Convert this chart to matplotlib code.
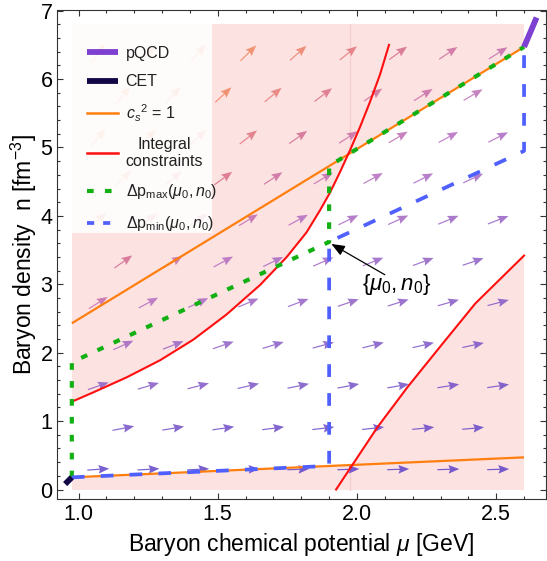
import numpy as np
import matplotlib
matplotlib.use("Agg")
import matplotlib.pyplot as plt
from matplotlib.patches import Polygon, Rectangle
from matplotlib.lines import Line2D
from matplotlib.ticker import MultipleLocator, FormatStrFormatter
from matplotlib.colors import LinearSegmentedColormap, Normalize

plt.rcParams['font.family'] = ['Liberation Sans', 'DejaVu Sans']
plt.rcParams['mathtext.fontset'] = 'custom'
plt.rcParams['mathtext.rm'] = 'Liberation Sans'
plt.rcParams['mathtext.it'] = 'Liberation Sans:italic'
plt.rcParams['mathtext.bf'] = 'Liberation Sans:bold'

# ---------------- data ----------------
cet_mu = [0.952, 0.976]
cet_n = [0.080, 0.178]
pqcd_mu = [2.600, 2.645]
pqcd_n = [6.47, 6.90]
cs_upper_mu = [0.976, 2.600]
cs_upper_n = [2.43, 6.47]
cs_lower_mu = [0.976, 2.600]
cs_lower_n = [0.178, 0.470]
red_left_mu = [0.976, 1.053, 1.173, 1.293, 1.412, 1.532, 1.652, 1.748, 1.819,
               1.867, 1.903, 1.939, 1.975, 2.011, 2.047, 2.083, 2.115]
red_left_n = [1.284, 1.42, 1.64, 1.89, 2.19, 2.56, 2.99, 3.40, 3.76,
              4.08, 4.34, 4.64, 4.96, 5.30, 5.67, 6.07, 6.50]
red_right_mu = [1.925, 1.976, 2.073, 2.182, 2.303, 2.425, 2.600]
red_right_n = [0.00, 0.314, 0.908, 1.50, 2.11, 2.72, 3.42]
dpmax_mu = [0.976, 0.976, 1.900, 1.900, 2.600]
dpmax_n = [0.178, 1.86, 3.62, 4.73, 6.47]
dpmin_mu = [0.976, 1.900, 1.900, 2.600, 2.600]
dpmin_n = [0.178, 0.345, 3.62, 4.95, 6.47]
mu0, n0 = 1.900, 3.62
region_mu = [0.976, 2.600]
region_n = [0.0, 6.80]
seam_mu = 1.975
# vector-field grid (staggered rows)
grid_rows_n = [0.295, 0.895, 1.513, 2.11, 2.73, 3.33, 3.94, 4.55, 5.15, 5.77, 6.38]
grid_cols_even = [1.071, 1.251, 1.430, 1.610, 1.789, 1.969, 2.148, 2.328, 2.507]
grid_cols_odd = [1.161, 1.340, 1.520, 1.699, 1.879, 2.058, 2.238, 2.417]

# ---------------- figure ----------------
W, H = 547, 561
fig = plt.figure(figsize=(W / 100, H / 100), dpi=100)
L, R, T, B = 56.7, 545.5, 10.0, 499.3
ax = fig.add_axes([L / W, 1 - B / H, (R - L) / W, (B - T) / H])
ax.set_xlim(0.9217, 2.677)
ax.set_ylim(-0.143, 7.01)

def ax_frac(px, py):
    return ((px - L) / (R - L), (B - py) / (B - T))

# pink excluded area
pink = Rectangle((region_mu[0], region_n[0]), region_mu[1] - region_mu[0],
                 region_n[1] - region_n[0], fc='#fde2e2', ec='none', zorder=0)
ax.add_patch(pink)
ax.plot([seam_mu, seam_mu], region_n, color='#f7cccc', lw=0.9, zorder=0.3)

# allowed (white) area: between c_s^2=1 lines, clipped by integral constraints
quad = Polygon([(cs_lower_mu[0], cs_lower_n[0]), (cs_lower_mu[1], cs_lower_n[1]),
                (cs_upper_mu[1], cs_upper_n[1]), (cs_upper_mu[0], cs_upper_n[0])],
               closed=True, fc='white', ec='none', zorder=0.6)
ax.add_patch(quad)
clip_pts = [(0.85, -1.0), (0.85, red_left_n[0])]
clip_pts += list(zip(red_left_mu, red_left_n))
clip_pts += [(red_left_mu[-1], 9.0), (2.9, 9.0), (2.9, red_right_n[-1])]
clip_pts += list(zip(red_right_mu[::-1], red_right_n[::-1]))
clip_pts += [(red_right_mu[0] - 0.17, -1.0)]
clip_poly = Polygon(clip_pts, closed=True, transform=ax.transData)
quad.set_clip_path(clip_poly)

# vector field arrows (c_s^2 = 1 direction through origin), fixed pixel length
X, Y = [], []
for i, nn in enumerate(grid_rows_n):
    cols = grid_cols_even if i % 2 == 0 else grid_cols_odd
    for mm in cols:
        X.append(mm)
        Y.append(nn)
X = np.array(X)
Y = np.array(Y)
slope = Y / X
p0 = ax.transData.transform(np.column_stack([X, Y]))
p1 = ax.transData.transform(np.column_stack([X + 0.01, Y + 0.01 * slope]))
d = p1 - p0
d /= np.hypot(d[:, 0], d[:, 1])[:, None]
cmap = LinearSegmentedColormap.from_list('arr', [
    (0.0, '#5a3ec8'), (0.05, '#6446c8'), (0.235, '#8e5ec4'), (0.367, '#b46cc0'),
    (0.408, '#c06cb0'), (0.45, '#cc6ca0'), (0.50, '#d86c88'), (0.533, '#e07480'),
    (0.567, '#e87c74'), (0.633, '#f08660'), (1.0, '#f59050')])
cols = cmap(Normalize(0, 6)(slope))
cols[:, 3] = 0.85
ax.quiver(X, Y, d[:, 0], d[:, 1], angles='uv', scale_units='dots', scale=1 / 22.0,
          units='dots', width=1.2, headwidth=7.2, headlength=9.0, headaxislength=7.8,
          pivot='middle', color=cols, zorder=1)

# lines
ax.plot(cs_upper_mu, cs_upper_n, color='#ff7f0e', lw=1.6, zorder=2, solid_capstyle='butt')
ax.plot(cs_lower_mu, cs_lower_n, color='#ff7f0e', lw=1.6, zorder=2, solid_capstyle='butt')
ax.plot(red_left_mu, red_left_n, color='#ff0f0f', lw=1.5, zorder=2.1)
ax.plot(red_right_mu, red_right_n, color='#ff0f0f', lw=1.5, zorder=2.1)
ax.plot(dpmax_mu, dpmax_n, color='#12b012', lw=3.0, dashes=(1.6, 2.7), zorder=3)
ax.plot(dpmin_mu, dpmin_n, color='#5060ff', lw=2.7, dashes=(3.4, 4.3), zorder=3.1)
ax.plot(pqcd_mu, pqcd_n, color='#7e40d0', lw=4.2, solid_capstyle='butt', zorder=4)
ax.plot(cet_mu, cet_n, color='#120848', lw=4.2, solid_capstyle='butt', zorder=4)

# annotation
ax.annotate('', xy=(mu0 + 0.008, n0 - 0.03), xytext=(2.10, 3.14),
            arrowprops=dict(arrowstyle='-|>,head_length=0.8,head_width=0.32',
                            color='black', lw=0.9, shrinkA=0, shrinkB=0), zorder=6)
ax.text(2.143, 2.99, r'$\{\mu_0,n_0\}$', fontsize=16, ha='center', va='center', zorder=6)

# legend (box drawn separately, as in the reference it hugs the text)
x0, y0 = ax_frac(71.7, 233.0)
x1, y1 = ax_frac(211.7, 23.3)
ax.add_patch(Rectangle((x0, y0), x1 - x0, y1 - y0, transform=ax.transAxes,
                       fc='white', ec='none', alpha=0.88, zorder=9))
handles = [
    Line2D([], [], color='#7e40d0', lw=4.2, solid_capstyle='butt'),
    Line2D([], [], color='#120848', lw=4.2, solid_capstyle='butt'),
    Line2D([], [], color='#ff7f0e', lw=1.8),
    Line2D([], [], color='#ff0f0f', lw=1.8),
    Line2D([], [], color='#12b012', lw=3.0, dashes=(1.6, 2.7)),
    Line2D([], [], color='#5060ff', lw=2.7, dashes=(1.9, 2.4)),
]
labels = ['pQCD', 'CET', r'$c_s{}^2$ = 1', 'Integral\nconstraints',
          r'$\Delta\mathrm{p}_{\mathrm{max}}(\mu_0,n_0)$',
          r'$\Delta\mathrm{p}_{\mathrm{min}}(\mu_0,n_0)$']
leg = ax.legend(handles, labels, loc='upper left',
                bbox_to_anchor=ax_frac(71.7, 31.0),
                fontsize=11.5, frameon=False, borderaxespad=0, borderpad=0.94,
                labelspacing=0.82, handlelength=1.95, handletextpad=0.48)
leg.set_zorder(10)
for t in leg.get_texts():
    t.set_multialignment('center')
    t.set_color('#222222')

# axes cosmetics
ax.xaxis.set_major_locator(MultipleLocator(0.5))
ax.xaxis.set_minor_locator(MultipleLocator(0.1))
ax.yaxis.set_major_locator(MultipleLocator(1))
ax.yaxis.set_minor_locator(MultipleLocator(0.2))
ax.xaxis.set_major_formatter(FormatStrFormatter('%.1f'))
ax.yaxis.set_major_formatter(FormatStrFormatter('%d'))
ax.tick_params(which='both', direction='in', top=True, right=True, color='#333333',
               width=0.8, labelsize=15.5)
ax.tick_params(which='major', length=4.0)
ax.tick_params(which='minor', length=2.0)
ax.tick_params(axis='x', pad=3.5)
ax.tick_params(axis='y', pad=3.0)
for s in ax.spines.values():
    s.set_color('#333333')
    s.set_linewidth(0.8)
ax.set_xlabel(r'Baryon chemical potential $\mu$ [GeV]', fontsize=16.5, labelpad=4)
ax.set_ylabel(r'Baryon density  n [fm$^{-3}$]', fontsize=16.5, labelpad=1)

fig.savefig('out.png', dpi=100)
